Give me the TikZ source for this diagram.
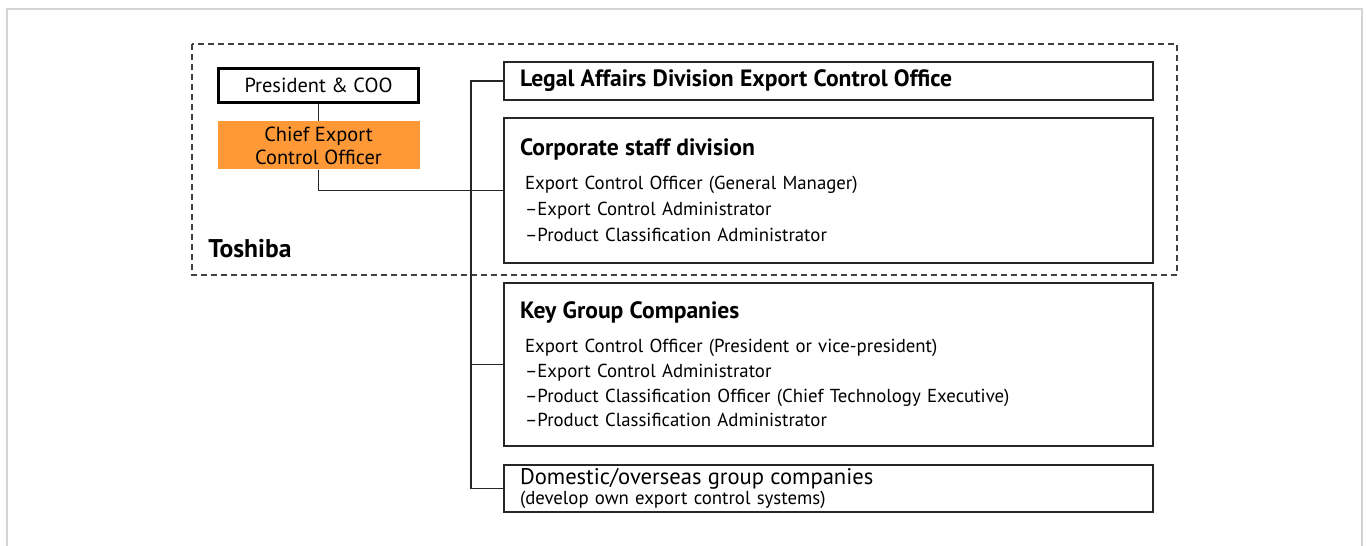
\documentclass[tikz,border=0pt]{standalone}
\usepackage{fontspec}
\setmainfont{PT Sans}
\usepackage{xcolor}
\usepackage{tikz}
\usetikzlibrary{positioning}
\definecolor{ceoorange}{RGB}{255,153,55}
\definecolor{framegray}{RGB}{212,212,212}
\tikzset{
unitbox/.style={draw=black!85,line width=1pt,align=left,text width=308.5pt,inner xsep=8pt,inner ysep=0pt,font=\fontsize{9.4}{12.4}\selectfont},
topbox/.style={draw=black,line width=1.5pt,align=center,minimum width=100pt,minimum height=17pt,inner sep=0pt,font=\fontsize{10.2}{11.5}\selectfont},
ceobox/.style={fill=ceoorange,align=center,minimum width=101pt,minimum height=24pt,inner sep=0pt,font=\fontsize{10.2}{11.5}\selectfont},
line/.style={draw=black!85,line width=.9pt},
groupline/.style={draw=black!75,line width=.75pt,dash pattern=on 3pt off 2pt}
}
\newcommand{\unittitle}[1]{{\fontsize{11.8}{13}\selectfont\bfseries #1}}

\begin{document}
\begin{tikzpicture}[x=.5pt,y=-.5pt,node distance=9pt]
\useasboundingbox (0,0) rectangle (1366,546);
\draw[framegray,line width=1pt] (7,546) -- (7,9) -- (1362,9) -- (1362,546);
\draw[groupline] (192,44) rectangle (1177,275);

\node[topbox] (pres) at (318.5,85.5) {President \& COO};
\node[ceobox,below=8.5pt of pres] (ceo) {Chief Export\\Control Officer};
\node[anchor=west,inner sep=0pt,font=\fontsize{12.8}{14}\selectfont\bfseries] (toshiba) at (208,249) {Toshiba};

\node[unitbox,minimum height=19pt,anchor=north west] (legal) at (503,61) {\unittitle{Legal Affairs Division Export Control Office}};
\node[unitbox,minimum height=72.5pt,below=8pt of legal,font=\fontsize{9.4}{13}\selectfont] (corp)
  {\unittitle{Corporate staff division}\\[4pt]
   \hspace*{2.5pt}Export Control Officer (General Manager)\\
   \hspace*{2.5pt}--Export Control Administrator\\
   \hspace*{2.5pt}--Product Classification Administrator};
\node[unitbox,minimum height=81.5pt,below=9pt of corp] (keygrp)
  {\unittitle{Key Group Companies}\\[4.5pt]
   \hspace*{2.5pt}Export Control Officer (President or vice-president)\\
   \hspace*{2.5pt}--Export Control Administrator\\
   \hspace*{2.5pt}--Product Classification Officer (Chief Technology Executive)\\
   \hspace*{2.5pt}--Product Classification Administrator};
\node[unitbox,minimum height=23.5pt,below=8.5pt of keygrp,font=\fontsize{9.4}{10}\selectfont] (domestic)
  {{\fontsize{11.3}{12}\selectfont Domestic/overseas group companies}\\
   (develop own export control systems)};

\coordinate (bus) at (471,0);
\draw[line] (pres) -- (ceo);
\draw[line] (ceo.south) |- (corp.west);
\draw[line] (legal.west) -| (bus |- domestic.west) -- (domestic.west);
\draw[line] (keygrp.west) -- (keygrp.west -| bus);
\end{tikzpicture}
\end{document}
